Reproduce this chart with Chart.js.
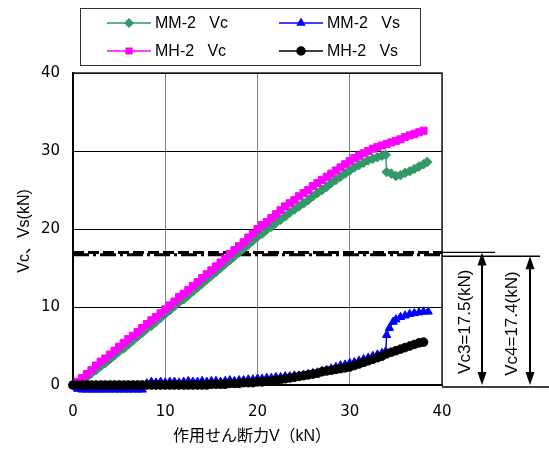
<!DOCTYPE html>
<html>
<head>
<meta charset="utf-8">
<script src="https://cdn.jsdelivr.net/npm/chart.js@4.4.1/dist/chart.umd.min.js"></script>
<style>
    body { margin: 0; background: #fff; }
    canvas { display: block; }
</style>
</head>
<body>
<canvas id="grafico" width="549" height="450"></canvas>
<script>
// MM-2 Vc
const mmVcX = [0,0.5,1,1.5,2,2.5,3,3.5,4,4.5,5,5.5,6,6.5,7,7.5,8,8.5,9,9.5,
    10,10.5,11,11.5,12,12.5,13,13.5,14,14.5,15,15.5,16,16.5,17,17.5,18,18.5,19,19.5,
    20,20.5,21,21.5,22,22.5,23,23.5,24,24.5,25,25.5,26,26.5,27,27.5,28,28.5,29,29.5,
    30,30.5,31,31.5,32,32.5,33,33.5,33.9,34.0,34.5,35,35.5,36,36.5,37,37.5,38,38.4];
const mmVcY = [0.0,0.2,0.6,1.0,1.5,1.9,2.4,2.8,3.3,3.8,
    4.3,4.7,5.2,5.7,6.2,6.7,7.2,7.6,8.1,8.6,
    9.1,9.6,10.1,10.6,11.0,11.5,12.0,12.5,13.0,13.5,
    14.0,14.5,15.0,15.5,16.0,16.5,17.0,17.5,18.0,18.5,
    19.0,19.4,19.9,20.3,20.8,21.2,21.6,22.1,22.5,22.9,
    23.3,23.7,24.2,24.6,25.0,25.4,25.9,26.3,26.7,27.1,
    27.5,27.9,28.2,28.5,28.8,29.0,29.2,29.4,
    29.5,27.3,27.1,26.8,26.9,27.2,27.4,27.7,28.0,28.3,28.6];

// MH-2 Vc
const mhVcX = [0,0.5,1,1.5,2,2.5,3,3.5,4,4.5,5,5.5,6,6.5,7,7.5,8,8.5,9,9.5,
    10,10.5,11,11.5,12,12.5,13,13.5,14,14.5,15,15.5,16,16.5,17,17.5,18,18.5,19,19.5,
    20,20.5,21,21.5,22,22.5,23,23.5,24,24.5,25,25.5,26,26.5,27,27.5,28,28.5,29,29.5,
    30,30.5,31,31.5,32,32.5,33,33.5,34,34.5,35,35.5,36,36.5,37,37.5,38];
const mhVcY = [0.0,0.4,0.9,1.4,1.9,2.5,3.0,3.4,3.9,4.4,
    4.9,5.4,5.9,6.3,6.8,7.3,7.8,8.3,8.7,9.2,
    9.7,10.2,10.7,11.3,11.7,12.2,12.7,13.2,13.7,14.2,
    14.7,15.2,15.7,16.2,16.8,17.3,17.8,18.3,18.9,19.4,
    20.0,20.5,20.9,21.4,21.9,22.4,22.9,23.3,23.7,24.2,
    24.6,25.0,25.5,25.9,26.3,26.7,27.1,27.5,27.9,28.3,
    28.7,29.1,29.4,29.7,30.0,30.3,30.5,30.7,30.9,31.1,
    31.3,31.5,31.8,32.0,32.2,32.4,32.6];

// MM-2 Vs
const mmVsX = [0,0.5,1,1.5,2,2.5,3,3.5,4,4.5,5,5.5,6,6.5,7,7.5,8,8.5,9,9.5,
    10,10.5,11,11.5,12,12.5,13,13.5,14,14.5,15,15.5,16,16.5,17,17.5,18,18.5,19,19.5,
    20,20.5,21,21.5,22,22.5,23,23.5,24,24.5,25,25.5,26,26.5,27,27.5,28,28.5,29,29.5,
    30,30.5,31,31.5,32,32.5,33,33.5,33.9,34.0,34.3,34.7,35,35.5,36,36.5,37,37.5,38,38.5];
const mmVsY = [0.0,-0.5,-0.6,-0.6,-0.6,-0.6,-0.6,-0.6,-0.6,-0.6,-0.6,-0.6,-0.6,-0.6,-0.6,-0.6,
    0.2,0.4,0.3,0.4,0.3,0.4,0.4,0.3,0.4,0.5,0.4,0.4,0.5,0.4,0.5,0.5,0.4,0.5,0.6,0.5,0.6,0.6,0.7,0.7,
    0.8,0.8,0.9,0.9,1.0,1.0,1.1,1.1,1.2,1.2,1.3,1.4,1.5,1.6,1.8,1.9,2.1,2.3,2.5,2.6,
    2.8,2.9,3.1,3.3,3.5,3.7,3.9,4.1,
    4.3,6.4,7.3,8.1,8.4,8.7,8.9,9.1,9.2,9.3,9.4,9.4];

// MH-2 Vs
const mhVsX = [0,0.5,1,1.5,2,2.5,3,3.5,4,4.5,5,5.5,6,6.5,7,7.5,8,8.5,9,9.5,
    10,10.5,11,11.5,12,12.5,13,13.5,14,14.5,15,15.5,16,16.5,17,17.5,18,18.5,19,19.5,
    20,20.5,21,21.5,22,22.5,23,23.5,24,24.5,25,25.5,26,26.5,27,27.5,28,28.5,29,29.5,
    30,30.5,31,31.5,32,32.5,33,33.5,34,34.5,35,35.5,36,36.5,37,37.5,38];
const mhVsY = [0,0,0,0,0,0,0,0,0,0,0,0,0,0,0,0,0,0,0,0,0,0,0,0,0,0,0,0,0,0,
    0.1,0.1,0.1,0.1,0.2,0.2,0.2,0.3,0.3,0.3,
    0.4,0.4,0.5,0.5,0.6,0.7,0.8,0.9,1.0,1.1,1.2,1.3,1.4,1.5,1.7,1.8,1.9,2.0,2.1,2.2,
    2.3,2.5,2.7,2.9,3.1,3.3,3.5,3.7,4.0,4.2,4.4,4.6,4.8,5.0,5.2,5.4,5.5];

const tickValues = [0, 10, 20, 30, 40];
const refLevels = [17.0, 16.7];           // as drawn in the picture
const refLabels = ['Vc3=17.5(kN)', 'Vc4=17.4(kN)'];
const xTitle = '作用せん断力V（kN）';
const yTitle = 'Vc、Vs(kN)';

const fuente = "'Liberation Sans','Noto Sans CJK JP',sans-serif";
const fuenteTicks = "'DejaVu Sans','Liberation Sans',sans-serif";

const juntar = (xs, ys) => xs.map((x, i) => ({ x: x, y: ys[i] }));

const series = [
    { label: 'MM-2   Vc', xs: mmVcX, ys: mmVcY, color: '#339966', style: 'rectRot', radius: 4.8, order: 4 },
    { label: 'MH-2   Vc', xs: mhVcX, ys: mhVcY, color: '#FF00FF', style: 'rect', radius: 5, order: 3 },
    { label: 'MM-2   Vs', xs: mmVsX, ys: mmVsY, color: '#0000FF', style: 'triangle', radius: 4.8, order: 2 },
    { label: 'MH-2   Vs', xs: mhVsX, ys: mhVsY, color: '#000000', style: 'circle', radius: 4.3, order: 1 }
];

const flecha = (ctx, x, y1, y2) => {
    ctx.beginPath();
    ctx.moveTo(x, y1 + 10);
    ctx.lineTo(x, y2 - 10);
    ctx.stroke();
    ctx.beginPath();
    ctx.moveTo(x, y1);
    ctx.lineTo(x - 4.5, y1 + 13);
    ctx.lineTo(x + 4.5, y1 + 13);
    ctx.closePath();
    ctx.fill();
    ctx.beginPath();
    ctx.moveTo(x, y2);
    ctx.lineTo(x - 4.5, y2 - 13);
    ctx.lineTo(x + 4.5, y2 - 13);
    ctx.closePath();
    ctx.fill();
};

const decoracion = {
    id: 'decoracion',
    beforeDatasetsDraw(chart) {
        const { ctx, chartArea: a, scales } = chart;
        const yS = scales.y;
        ctx.save();
        // marco superior y derecho
        ctx.strokeStyle = '#222';
        ctx.lineWidth = 1.5;
        ctx.beginPath();
        ctx.moveTo(a.left, a.top);
        ctx.lineTo(a.right, a.top);
        ctx.lineTo(a.right, a.bottom);
        ctx.stroke();
        // lineas de referencia
        const dashes = [[11, 4], [16, 4, 3, 4]];
        refLevels.forEach((v, i) => {
            const y = yS.getPixelForValue(v);
            ctx.strokeStyle = '#000';
            ctx.lineWidth = 3;
            ctx.setLineDash(dashes[i]);
            ctx.beginPath();
            ctx.moveTo(a.left, y);
            ctx.lineTo(a.right, y);
            ctx.stroke();
        });
        ctx.restore();
    },
    afterDraw(chart) {
        const { ctx, chartArea: a, scales } = chart;
        const yS = scales.y;
        const y0 = yS.getPixelForValue(0);
        ctx.save();
        ctx.strokeStyle = '#000';
        ctx.fillStyle = '#000';
        ctx.lineWidth = 1.3;
        // prolongaciones a la derecha
        const fines = [495, 540];
        refLevels.forEach((v, i) => {
            const y = yS.getPixelForValue(v) + i * 1.5;
            ctx.beginPath();
            ctx.moveTo(a.right, y);
            ctx.lineTo(fines[i], y);
            ctx.stroke();
        });
        ctx.beginPath();
        ctx.moveTo(a.right, y0 + 2);
        ctx.lineTo(549, y0 + 2);
        ctx.stroke();
        // flechas y textos
        const xsFlecha = [482, 530];
        const xsTexto = [465, 512];
        ctx.lineWidth = 2;
        refLevels.forEach((v, i) => {
            const yTop = yS.getPixelForValue(v) + i * 1.5;
            flecha(ctx, xsFlecha[i], yTop, y0);
            ctx.save();
            ctx.translate(xsTexto[i], (yTop + y0) / 2 + 3);
            ctx.rotate(-Math.PI / 2);
            ctx.font = '17px ' + fuente;
            ctx.textAlign = 'center';
            ctx.textBaseline = 'middle';
            ctx.fillText(refLabels[i], 0, 0);
            ctx.restore();
        });
        // titulos de ejes
        ctx.font = '16px ' + fuente;
        ctx.textAlign = 'center';
        ctx.textBaseline = 'middle';
        ctx.fillText(xTitle, 252, 437);
        ctx.save();
        ctx.translate(25, 231);
        ctx.rotate(-Math.PI / 2);
        ctx.fillText(yTitle, 0, 0);
        ctx.restore();
        // leyenda
        ctx.lineWidth = 1;
        ctx.strokeStyle = '#333';
        ctx.fillStyle = '#fff';
        ctx.fillRect(80.5, 8.5, 340, 57);
        ctx.strokeRect(80.5, 8.5, 340, 57);
        const cols = [107, 279];
        const filas = [23, 51];
        series.forEach((s, i) => {
            const x = cols[Math.floor(i / 2)];
            const y = filas[i % 2];
            ctx.strokeStyle = s.color;
            ctx.fillStyle = s.color;
            ctx.lineWidth = 1.5;
            ctx.beginPath();
            ctx.moveTo(x, y);
            ctx.lineTo(x + 44, y);
            ctx.stroke();
            Chart.helpers.drawPoint(ctx, { pointStyle: s.style, radius: 4, rotation: 0, borderWidth: 1 }, x + 22, y);
            ctx.fillStyle = '#000';
            ctx.font = '16px ' + fuente;
            ctx.textAlign = 'left';
            ctx.textBaseline = 'middle';
            ctx.fillText(s.label, x + 48, y + 1);
        });
        ctx.restore();
    }
};

new Chart(document.getElementById('grafico').getContext('2d'), {
    type: 'scatter',
    data: {
        datasets: series.map(s => ({
            label: s.label,
            data: juntar(s.xs, s.ys),
            showLine: true,
            borderColor: s.color,
            backgroundColor: s.color,
            borderWidth: 1.5,
            pointStyle: s.style,
            pointRadius: s.radius,
            pointBorderWidth: 1,
            pointBackgroundColor: s.color,
            pointBorderColor: s.color,
            order: s.order,
            clip: 8
        }))
    },
    options: {
        responsive: false,
        animation: false,
        layout: { padding: { left: 0, top: 73, right: 107, bottom: 0 } },
        plugins: { legend: { display: false }, tooltip: { enabled: false } },
        scales: {
            x: {
                type: 'linear', min: 0, max: 40,
                afterBuildTicks: s => { s.ticks = tickValues.map(v => ({ value: v })); },
                ticks: { color: '#000', font: { family: fuenteTicks, size: 15 }, padding: 18, maxRotation: 0 },
                grid: { color: '#808080', lineWidth: 1, drawTicks: false },
                border: { color: '#000', width: 2 },
                afterFit: s => { s.height = 65; }
            },
            y: {
                type: 'linear', min: 0, max: 40,
                afterBuildTicks: s => { s.ticks = tickValues.map(v => ({ value: v })); },
                ticks: { color: '#000', font: { family: fuenteTicks, size: 15 }, padding: 13 },
                grid: { color: '#000', lineWidth: 1, drawTicks: false },
                border: { color: '#000', width: 2 },
                afterFit: s => { s.width = 73; }
            }
        }
    },
    plugins: [decoracion]
});
</script>
</body>
</html>
